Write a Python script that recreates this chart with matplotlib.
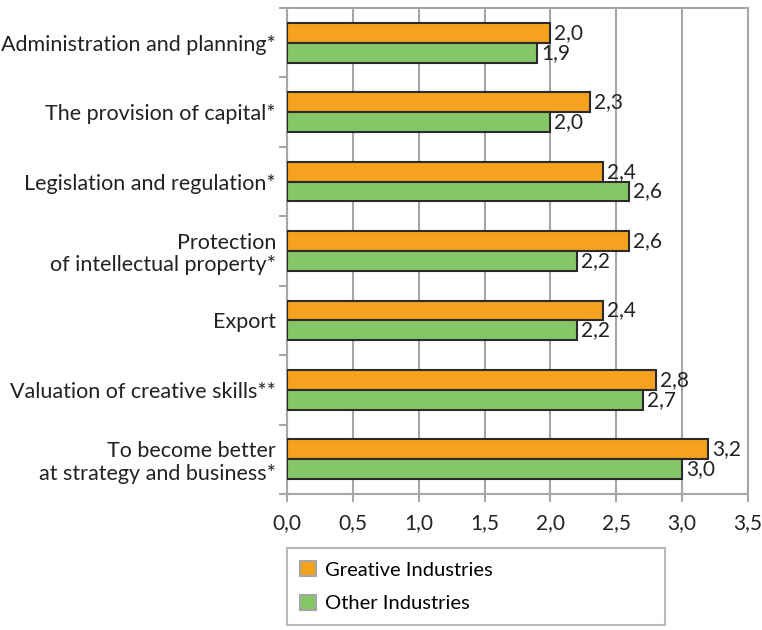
import matplotlib.pyplot as plt
import numpy as np

categories = ["Administration and planning*", "The provision of capital*",
              "Legislation and regulation*", "Protection\nof intellectual property*",
              "Export", "Valuation of creative skills**",
              "To become better\nat strategy and business*"]
creative = [2.0, 2.3, 2.4, 2.6, 2.4, 2.8, 3.2]
other = [1.9, 2.0, 2.6, 2.2, 2.2, 2.7, 3.0]
xticks = [0, 0.5, 1.0, 1.5, 2.0, 2.5, 3.0, 3.5]

plt.rcParams['font.family'] = ['Lato', 'DejaVu Sans']
fs = 15

fig = plt.figure(figsize=(7.62, 6.3), dpi=100)
ax = fig.add_axes([287/762, 1-494/630, (748-287)/762, (494-8)/630])

n = len(categories)
pos = np.arange(n)
h = 0.285
ax.barh(pos - h/2, creative, height=h, color='#f5a31f', edgecolor='#2b2b2b', linewidth=1.5,
        label='Greative Industries', zorder=3)
ax.barh(pos + h/2, other, height=h, color='#85c767', edgecolor='#2b2b2b', linewidth=1.5,
        label='Other Industries', zorder=3)

for i in range(n):
    ax.text(creative[i] + 0.03, pos[i] - h/2, f"{creative[i]:.1f}".replace('.', ','),
            va='center', ha='left', fontsize=fs, color='#222222')
    ax.text(other[i] + 0.03, pos[i] + h/2, f"{other[i]:.1f}".replace('.', ','),
            va='center', ha='left', fontsize=fs, color='#222222')

ax.set_xlim(0, 3.5)
ax.set_ylim(n - 0.5, -0.5)
ax.set_xticks(xticks)
ax.set_xticklabels([f"{t:.1f}".replace('.', ',') for t in xticks], fontsize=fs, color='#222222')
ax.set_yticks(pos)
ax.set_yticklabels(categories, fontsize=15.5, color='#222222', linespacing=1.15)
ax.set_yticks(np.arange(-0.5, n, 1), minor=True)
ax.tick_params(axis='y', which='major', length=0, pad=8)
ax.tick_params(axis='y', which='minor', length=6, color='#a6a6a6', width=1.5)
ax.tick_params(axis='x', length=6, color='#a6a6a6', width=1.5, pad=8)
ax.grid(axis='x', color='#a6a6a6', linewidth=1.5, zorder=0)
for s in ax.spines.values():
    s.set_color('#a6a6a6')
    s.set_linewidth(1.5)

leg = fig.legend(loc='upper left', bbox_to_anchor=(287/762, 1-548/630, (665-287)/762, 0),
                 mode='expand', borderaxespad=0, fontsize=14.5, frameon=True, fancybox=False,
                 handlelength=0.78, handleheight=0.78, labelspacing=0.8, borderpad=0.65,
                 handletextpad=0.45)
leg.get_frame().set_edgecolor('#a6a6a6')
leg.get_frame().set_linewidth(1.5)
for p in leg.get_patches():
    p.set_edgecolor('#a6a6a6')

fig.savefig('out.png', dpi=100)
